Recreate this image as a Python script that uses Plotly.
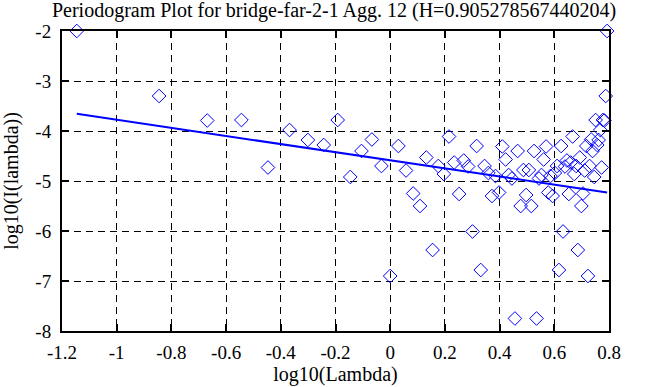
import plotly.graph_objects as go

# log10 of Fourier frequencies (lambda)
log_lambda = [
    -1.146, -0.845, -0.669, -0.544, -0.447, -0.368, -0.301, -0.243, -0.192, -0.146,
    -0.105, -0.067, -0.032, 0.000, 0.030, 0.058, 0.084, 0.109, 0.132, 0.155,
    0.176, 0.196, 0.215, 0.234, 0.252, 0.269, 0.285, 0.301, 0.316, 0.331,
    0.345, 0.359, 0.372, 0.385, 0.398, 0.410, 0.422, 0.433, 0.445, 0.456,
    0.466, 0.477, 0.487, 0.497, 0.507, 0.516, 0.526, 0.535, 0.544, 0.553,
    0.561, 0.570, 0.578, 0.586, 0.594, 0.602, 0.610, 0.617, 0.625, 0.632,
    0.639, 0.646, 0.653, 0.660, 0.667, 0.673, 0.680, 0.686, 0.693, 0.699,
    0.705, 0.711, 0.717, 0.723, 0.729, 0.735, 0.740, 0.746, 0.751, 0.757,
    0.762, 0.768, 0.773, 0.778, 0.783, 0.788, 0.793,
]

# log10 of periodogram values I(lambda)
log_periodogram = [
    -2.00, -3.30, -3.79, -3.78, -4.73, -3.98, -4.18, -4.28, -3.78, -4.92,
    -4.40, -4.17, -4.70, -6.90, -4.30, -4.79, -5.25, -5.50, -4.53, -6.38,
    -4.70, -4.86, -4.11, -4.63, -5.26, -4.59, -4.71, -6.01, -4.30, -6.78,
    -4.70, -4.84, -5.30, -4.90, -5.23, -4.31, -4.57, -4.88, -4.95, -7.75,
    -4.40, -5.50, -4.78, -5.28, -4.78, -5.50, -4.40, -7.75, -4.95, -4.88,
    -4.57, -4.31, -5.23, -4.90, -5.30, -4.84, -4.70, -6.78, -4.30, -6.01,
    -4.71, -4.59, -5.26, -4.63, -4.11, -4.86, -4.70, -6.38, -4.53, -5.50,
    -5.25, -4.79, -4.30, -6.90, -4.70, -4.17, -4.40, -4.92, -3.78, -4.28,
    -4.18, -3.98, -4.73, -3.78, -3.79, -3.30, -2.00,
]

# fitted regression line parameters
hurst = 0.905278567440204
fit_slope = 1 - 2 * hurst
fit_intercept = -4.586

x_ticks = [-1.2, -1.0, -0.8, -0.6, -0.4, -0.2, 0.0, 0.2, 0.4, 0.6, 0.8]
x_tick_labels = ["-1.2", "-1", "-0.8", "-0.6", "-0.4", "-0.2", "0", "0.2", "0.4", "0.6", "0.8"]
y_ticks = [-8, -7, -6, -5, -4, -3, -2]
y_tick_labels = ["-8", "-7", "-6", "-5", "-4", "-3", "-2"]

fit_x = [min(log_lambda), max(log_lambda)]
fit_y = [fit_intercept + fit_slope * v for v in fit_x]

FONT = "Liberation Serif"

fig = go.Figure()
fig.add_trace(go.Scatter(
    x=log_lambda, y=log_periodogram, mode="markers",
    marker=dict(symbol="diamond-open", size=10.5, color="#0000ff",
                line=dict(width=1, color="#0000ff")),
    cliponaxis=False, showlegend=False,
))
fig.add_trace(go.Scatter(
    x=fit_x, y=fit_y, mode="lines",
    line=dict(color="#0000ff", width=2),
    showlegend=False,
))

axis_common = dict(
    showline=True, linecolor="black", linewidth=2, mirror="allticks",
    ticks="inside", ticklen=7, tickwidth=2, tickcolor="black",
    showgrid=True, gridcolor="black", gridwidth=1, griddash="7px,5px",
    zeroline=False,
    tickfont=dict(family=FONT, size=19, color="black"),
)

fig.update_xaxes(
    range=[-1.2, 0.8], tickvals=x_ticks, ticktext=x_tick_labels,
    title=dict(text="log10(Lambda)", font=dict(family=FONT, size=20, color="black"), standoff=5),
    ticklabelstandoff=3,
    **axis_common,
)
fig.update_yaxes(
    range=[-8, -2], tickvals=y_ticks, ticktext=y_tick_labels,
    title=dict(text="log10(I(lambda))", font=dict(family=FONT, size=20, color="black"), standoff=17),
    ticklabelstandoff=5,
    **axis_common,
)

fig.update_layout(
    width=668, height=387,
    margin=dict(l=62, r=59, t=31, b=56, autoexpand=False),
    paper_bgcolor="white", plot_bgcolor="white",
    title=dict(text="Periodogram Plot for bridge-far-2-1 Agg. 12 (H=0.905278567440204)",
               font=dict(family=FONT, size=20, color="black"),
               x=0.5, xanchor="center", y=1 - 10 / 387, yanchor="middle", yref="container"),
)

fig.write_html(
    "out.html",
    config={"displayModeBar": False},
    post_script="document.body.style.margin='0';document.body.style.overflow='hidden';",
)
